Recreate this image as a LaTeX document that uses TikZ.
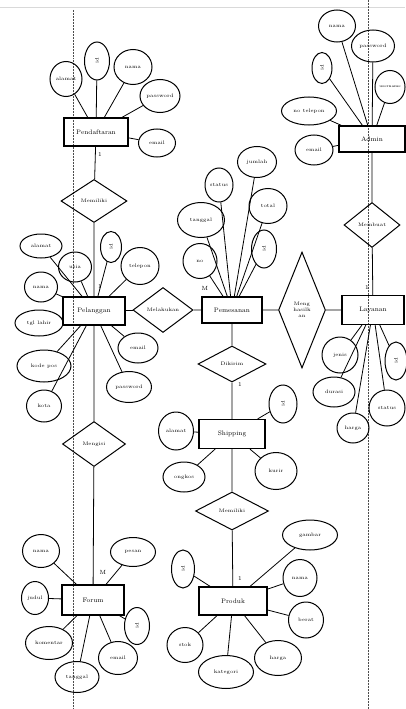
\documentclass[tikz,border=0pt]{standalone}
\usetikzlibrary{shapes.geometric}
\begin{document}
\begin{tikzpicture}[x=1pt,y=-1pt,
  attr/.style 2 args={ellipse,draw,line width=1pt,minimum width=#1,minimum height=#2,inner sep=0pt,font=\fontsize{5}{5.5}\selectfont},
  ent/.style 2 args={rectangle,draw,line width=1.2pt,minimum width=#1,minimum height=#2,inner sep=0pt,font=\fontsize{6.5}{7}\selectfont},
  rel/.style 2 args={diamond,draw,line width=1pt,minimum width=#1,minimum height=#2,inner sep=0pt,font=\fontsize{5}{6}\selectfont,align=center},
  card/.style={font=\fontsize{6}{6}\selectfont,inner sep=0pt},
  con/.style={line width=0.8pt},
  margin/.style={densely dotted,line width=0.5pt,black!70}]
\useasboundingbox (0,0) rectangle (405,709);
\fill[white] (0,0) rectangle (405,709);
% page lines
\coordinate (tl) at (0,8); \coordinate (tr) at (405,8);
\draw[black!15,line width=1pt] (tl) -- (tr);
\coordinate (ml1) at (73,10); \coordinate (ml2) at (73,709);
\coordinate (mr1) at (368,0); \coordinate (mr2) at (368,709);
\draw[margin] (ml1) -- (ml2);
\draw[margin] (mr1) -- (mr2);

% ---------- entities ----------
\node[ent={64}{28}] (pend) at (96,132) {Pendaftaran};
\node[ent={62}{28}] (pel) at (94,311) {Pelanggan};
\node[ent={62}{30}] (for) at (93,600) {Forum};
\node[ent={60}{26}] (pem) at (232,310) {Pemesanan};
\node[ent={66}{29}] (shp) at (232,434) {Shipping};
\node[ent={68}{28}] (pro) at (233,601) {Produk};
\node[ent={66}{26}] (adm) at (372,139) {Admin};
\node[ent={62}{29}] (lay) at (373,310) {Layanan};

% ---------- relationships ----------
\node[rel={66}{43}] (r1) at (94,201) {Memiliki};
\node[rel={63}{45}] (r2) at (94,444) {Mengisi};
\node[rel={60}{45}] (r3) at (163,310) {Melakukan};
\node[rel={47}{116}] (r4) at (302,310) {Meng\\hasilk\\an};
\node[rel={56}{45}] (r5) at (372,225) {Membuat};
\node[rel={68}{36}] (r6) at (232,364) {Dikirim};
\node[rel={73}{38}] (r7) at (232,511) {Memiliki};

\draw[con] (pend) -- (r1) -- (pel) -- (r2) -- (for);
\draw[con] (pel) -- (r3) -- (pem) -- (r4) -- (lay);
\draw[con] (adm) -- (r5) -- (lay);
\draw[con] (pem) -- (r6) -- (shp) -- (r7) -- (pro);

% cardinalities
\node[card] (c1) at (100,155) {1};
\node[card] (c2) at (100,287) {1};
\node[card] (c3) at (205,288) {M};
\node[card] (c4) at (240,385) {1};
\node[card] (c5) at (367,288) {1};
\node[card] (c6) at (103,572) {M};
\node[card] (c7) at (240,578) {1};

% ---------- attributes: Pendaftaran ----------
\node[attr={32}{35}] (a11) at (66,79) {alamat};
\node[attr={25}{38}] (a12) at (97,61) {\rotatebox{90}{id}};
\node[attr={38}{35}] (a13) at (133,67) {nama};
\node[attr={40}{33}] (a14) at (160,96) {password};
\node[attr={37}{28}] (a15) at (157,143) {email};
\foreach \a in {a11,a12,a13,a14,a15} \draw[con] (\a) -- (pend);

% ---------- attributes: Admin ----------
\node[attr={37}{32}] (a21) at (337,26) {nama};
\node[attr={43}{32}] (a22) at (373,46) {password};
\node[attr={30}{33},font=\fontsize{3.8}{4}\selectfont] (a23) at (390,87) {username};
\node[attr={20}{31}] (a24) at (322,68) {\rotatebox{90}{id}};
\node[attr={55}{28}] (a25) at (309,111) {no telepon};
\node[attr={38}{30}] (a26) at (314,150) {email};
\foreach \a in {a21,a22,a23,a24,a25,a26} \draw[con] (\a) -- (adm);

% ---------- attributes: Pelanggan ----------
\node[attr={42}{24}] (a31) at (41,246) {alamat};
\node[attr={33}{30}] (a32) at (41,287) {nama};
\node[attr={48}{26}] (a33) at (39,323) {tgl lahir};
\node[attr={33}{30}] (a34) at (75,267) {usia};
\node[attr={21}{31}] (a35) at (111,247) {\rotatebox{90}{id}};
\node[attr={38}{37}] (a36) at (140,266) {telepon};
\node[attr={54}{32}] (a37) at (44,366) {kode pos};
\node[attr={35}{32}] (a38) at (44,406) {kota};
\node[attr={40}{30}] (a39) at (138,348) {email};
\node[attr={45}{31}] (a30) at (129,387) {password};
\foreach \a in {a31,a32,a33,a34,a35,a36,a37,a38,a39,a30} \draw[con] (\a) -- (pel);

% ---------- attributes: Pemesanan ----------
\node[attr={47}{35}] (a41) at (201,220) {tanggal};
\node[attr={28}{34}] (a42) at (219,185) {status};
\node[attr={39}{31}] (a43) at (257,162) {jumlah};
\node[attr={38}{35}] (a44) at (268,206) {total};
\node[attr={25}{38}] (a45) at (264,249) {\rotatebox{90}{id}};
\node[attr={34}{35}] (a46) at (200,261) {no};
\foreach \a in {a41,a42,a43,a44,a45,a46} \draw[con] (\a) -- (pem);

% ---------- attributes: Layanan ----------
\node[attr={36}{36}] (a51) at (340,355) {jenis};
\node[attr={42}{30}] (a52) at (334,392) {durasi};
\node[attr={32}{30}] (a53) at (353,428) {harga};
\node[attr={36}{36}] (a54) at (387,408) {status};
\node[attr={22}{38}] (a55) at (396,361) {\rotatebox{90}{id}};
\foreach \a in {a51,a52,a53,a54,a55} \draw[con] (\a) -- (lay);

% ---------- attributes: Shipping ----------
\node[attr={35}{38}] (a61) at (176,431) {alamat};
\node[attr={42}{30}] (a62) at (184,477) {ongkos};
\node[attr={28}{38}] (a63) at (283,404) {\rotatebox{90}{id}};
\node[attr={42}{37}] (a64) at (276,471) {kurir};
\foreach \a in {a61,a62,a63,a64} \draw[con] (\a) -- (shp);

% ---------- attributes: Produk ----------
\node[attr={23}{38}] (a71) at (183,569) {\rotatebox{90}{id}};
\node[attr={36}{35}] (a72) at (185,645) {stok};
\node[attr={55}{33}] (a73) at (226,672) {kategori};
\node[attr={47}{35}] (a74) at (278,658) {harga};
\node[attr={35}{36}] (a75) at (306,620) {berat};
\node[attr={34}{37}] (a76) at (300,578) {nama};
\node[attr={55}{30}] (a77) at (310,535) {gambar};
\foreach \a in {a71,a72,a73,a74,a75,a76,a77} \draw[con] (\a) -- (pro);

% ---------- attributes: Forum ----------
\node[attr={37}{33}] (a81) at (41,551) {nama};
\node[attr={45}{29}] (a82) at (133,552) {pesan};
\node[attr={27}{33}] (a83) at (35,598) {judul};
\node[attr={47}{33}] (a84) at (49,643) {komentar};
\node[attr={44}{31}] (a85) at (77,677) {tanggal};
\node[attr={39}{33}] (a86) at (118,658) {email};
\node[attr={25}{37}] (a87) at (137,626) {\rotatebox{90}{id}};
\foreach \a in {a81,a82,a83,a84,a85,a86,a87} \draw[con] (\a) -- (for);
\end{tikzpicture}
\end{document}
